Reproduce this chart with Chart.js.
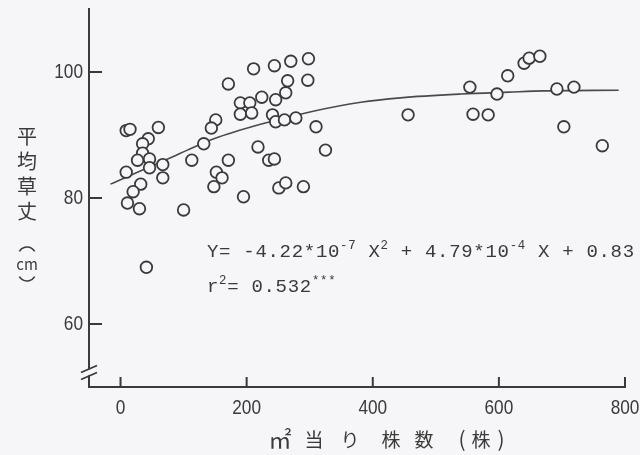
<!DOCTYPE html>
<html>
<head>
<meta charset="utf-8">
<script src="https://cdn.jsdelivr.net/npm/chart.js@4"></script>
<style>
    html, body { margin: 0; padding: 0; background: #f6f5f7; }
    #chart { display: block; }
</style>
</head>
<body>
<canvas id="chart" width="640" height="455"></canvas>
<script>
// Plants per m2 vs mean plant height (cm)
const density = [9, 15, 60, 44, 35, 35, 27, 46, 46, 67, 67, 9, 32, 20, 11, 30, 100, 41,
    113, 132, 151, 144, 171, 152, 161, 148, 171, 195, 211, 190, 190, 205, 208, 224,
    244, 270, 298, 297, 265, 262, 246, 241, 246, 260, 278, 218, 235, 244, 251, 262,
    290, 310, 325, 456, 554, 559, 583, 597, 614, 640, 648, 665, 692, 719, 703, 764];
const height = [90.7, 90.9, 91.2, 89.4, 88.6, 87.1, 86.0, 86.2, 84.8, 85.3, 83.2, 84.1, 82.2, 81.0, 79.2, 78.3, 78.1, 69.0,
    86.0, 88.6, 92.4, 91.1, 86.0, 84.1, 83.2, 81.8, 98.1, 80.2, 100.5, 95.1, 93.3, 95.1, 93.5, 96.0,
    101.0, 101.7, 102.1, 98.7, 98.6, 96.7, 95.6, 93.2, 92.1, 92.4, 92.7, 88.1, 86.0, 86.2, 81.6, 82.4,
    81.8, 91.3, 87.6, 93.2, 97.6, 93.3, 93.2, 96.5, 99.4, 101.4, 102.2, 102.5, 97.3, 97.6, 91.3, 88.3];

// fitted curve
const fitX = [-16, 0, 82, 106, 148, 222, 302, 381, 444, 540, 616, 671, 790];
const fitY = [82.2, 82.9, 86.5, 87.6, 89.4, 91.7, 93.7, 95.2, 95.9, 96.5, 96.8, 97.0, 97.1];

const xTicks = [0, 200, 400, 600, 800];
const yTicks = [60, 80, 100];

const eqLine1 = [['Y= -4.22*10', 0], ['-7', 1], [' X', 0], ['2', 1], [' + 4.79*10', 0], ['-4', 1], [' X + 0.83', 0]];
const eqLine2 = [['r', 0], ['2', 1], ['= 0.532', 0], ['***', 1]];

const paper = '#f6f5f7';
const ink = '#3a3a3a';
const numFont = '"Liberation Sans", sans-serif';
const jpFont = '"Noto Sans CJK JP", sans-serif';
const monoFont = '"Liberation Mono", "DejaVu Sans Mono", monospace';

function drawRich(ctx, x, y, parts, size, spacing) {
    let cx = x;
    parts.forEach(([text, sup]) => {
        const s = sup ? size * 0.65 : size;
        ctx.font = `${s}px ${monoFont}`;
        for (const ch of text) {
            ctx.fillText(ch, cx, sup ? y - size * 0.42 : y);
            cx += ctx.measureText(ch).width + spacing;
        }
    });
}

// narrow digits like the typewriter numerals of the original
function drawNarrow(ctx, text, x, y, align, baseline) {
    ctx.save();
    ctx.translate(x, y);
    ctx.scale(0.82, 1);
    ctx.textAlign = align;
    ctx.textBaseline = baseline;
    ctx.font = `21px ${numFont}`;
    ctx.fillText(text, 0, 0);
    ctx.restore();
}

const decorPlugin = {
    id: 'decor',
    beforeDraw(chart) {
        const { ctx, width, height } = chart;
        ctx.save();
        ctx.fillStyle = paper;
        ctx.fillRect(0, 0, width, height);
        ctx.restore();
    },
    afterDraw(chart) {
        const { ctx, chartArea, scales } = chart;
        const { left, bottom } = chartArea;
        ctx.save();
        ctx.strokeStyle = ink;
        ctx.fillStyle = ink;
        ctx.lineWidth = 2;

        // inward tick marks + labels
        ctx.beginPath();
        yTicks.forEach(v => {
            const py = scales.y.getPixelForValue(v);
            ctx.moveTo(left, py);
            ctx.lineTo(left + 13, py);
            drawNarrow(ctx, String(v), left - 6, py, 'right', 'middle');
        });
        xTicks.forEach(v => {
            const px = scales.x.getPixelForValue(v);
            ctx.moveTo(px, bottom);
            ctx.lineTo(px, bottom - 10);
            drawNarrow(ctx, String(v), px, bottom + 11, 'center', 'top');
        });
        ctx.stroke();

        // axis break
        const yc = scales.y.getPixelForValue(52.3);
        ctx.fillStyle = paper;
        ctx.fillRect(left - 3, yc - 3, 6, 6);
        ctx.lineWidth = 1.8;
        ctx.beginPath();
        ctx.moveTo(left - 8, yc);
        ctx.lineTo(left + 8, yc - 7);
        ctx.moveTo(left - 8, yc + 7);
        ctx.lineTo(left + 8, yc);
        ctx.stroke();

        // y axis title, written vertically
        ctx.fillStyle = ink;
        ctx.textAlign = 'center';
        ctx.textBaseline = 'middle';
        ctx.font = `20px ${jpFont}`;
        [['平', 136], ['均', 161], ['草', 186], ['丈', 211]].forEach(([t, py]) => {
            ctx.fillText(t, 27, py);
        });
        ctx.font = `15px ${jpFont}`;
        ctx.fillText('cm', 27, 264);
        // vertical brackets around the unit
        ctx.lineWidth = 1.6;
        ctx.beginPath();
        ctx.arc(27, 256, 9, Math.PI + 0.55, 2 * Math.PI - 0.55);
        ctx.stroke();
        ctx.beginPath();
        ctx.arc(27, 272, 9, 0.55, Math.PI - 0.55);
        ctx.stroke();

        // x axis title
        ctx.font = `23px ${jpFont}`;
        ctx.fillText('㎡', 280, 439);
        ctx.font = `19px ${jpFont}`;
        [['当', 314], ['り', 350], ['株', 391], ['数', 424], ['株', 481]].forEach(([t, px]) => {
            ctx.fillText(t, px, 440);
        });
        ctx.font = `21px ${jpFont}`;
        ctx.fillText('(', 462, 439);
        ctx.fillText(')', 501, 439);

        // regression equation
        ctx.textAlign = 'left';
        ctx.textBaseline = 'alphabetic';
        drawRich(ctx, 207, 257, eqLine1, 19, 0.7);
        drawRich(ctx, 207, 292, eqLine2, 19, 0.7);
        ctx.restore();
    }
};

new Chart(document.getElementById('chart'), {
    data: {
        datasets: [
            {
                type: 'scatter',
                data: density.map((d, i) => ({ x: d, y: height[i] })),
                pointRadius: 5.8,
                pointBorderWidth: 1.8,
                pointBorderColor: ink,
                pointBackgroundColor: paper,
                order: 0
            },
            {
                type: 'line',
                data: fitX.map((d, i) => ({ x: d, y: fitY[i] })),
                borderColor: '#4a4a4a',
                borderWidth: 1.6,
                pointRadius: 0,
                cubicInterpolationMode: 'monotone',
                fill: false,
                order: 1
            }
        ]
    },
    options: {
        responsive: false,
        animation: false,
        devicePixelRatio: 1,
        layout: { padding: { left: 0, right: 15, top: 9, bottom: 0 } },
        plugins: { legend: { display: false }, tooltip: { enabled: false } },
        scales: {
            x: {
                type: 'linear',
                min: -50,
                max: 800,
                afterBuildTicks: s => { s.ticks = xTicks.map(v => ({ value: v })); },
                afterFit: s => { s.height = 68; s.paddingLeft = 0; s.paddingRight = 0; },
                grid: { display: false },
                border: { display: true, color: ink, width: 2 },
                ticks: { display: false }
            },
            y: {
                type: 'linear',
                min: 50,
                max: 110,
                afterBuildTicks: s => { s.ticks = yTicks.map(v => ({ value: v })); },
                afterFit: s => { s.width = 89; s.paddingTop = 0; s.paddingBottom = 0; },
                grid: { display: false },
                border: { display: true, color: ink, width: 2 },
                ticks: { display: false }
            }
        }
    },
    plugins: [decorPlugin]
});
</script>
</body>
</html>
